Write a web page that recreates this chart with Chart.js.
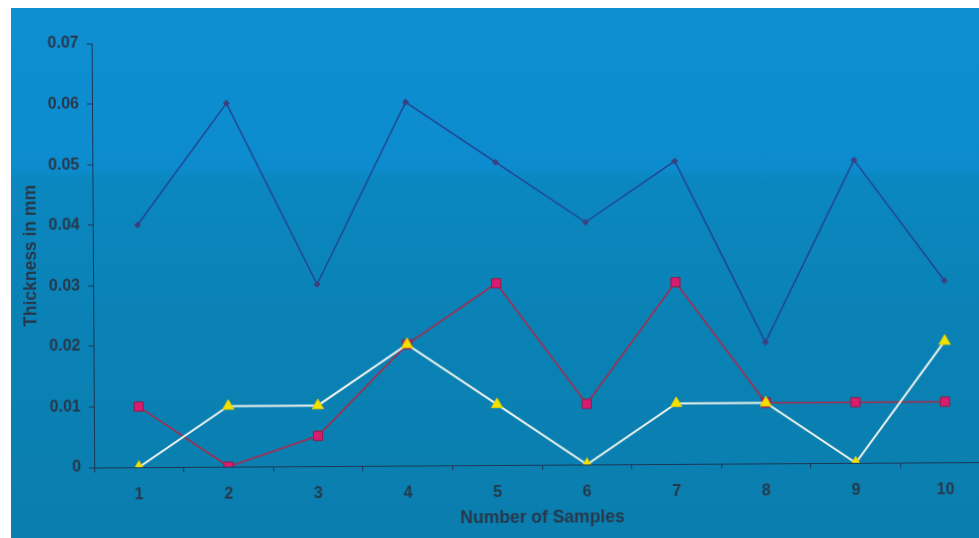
<!DOCTYPE html>
<html>
<head>
<meta charset="utf-8">
<script src="https://cdn.jsdelivr.net/npm/chart.js@4/dist/chart.umd.min.js"></script>
<style>
    html, body { margin: 0; padding: 0; background: #ffffff; overflow: hidden; }
    #page { position: relative; width: 979px; height: 538px; overflow: hidden; }
    #backdrop {
        position: absolute; left: 11px; top: 8px; right: 0; bottom: 0;
        background: linear-gradient(to bottom,
            #0e8fd3 0px, #0c8cce 160px, #0b87c0 172px, #0a82b6 300px, #0a7eae 530px);
    }
    #wrap { position: absolute; left: 0; top: 0; width: 1000px; height: 538px; transform: rotate(-0.35deg); transform-origin: 500px 269px; }
</style>
</head>
<body>
<div id="page">
    <div id="backdrop"></div>
    <div id="wrap"><canvas id="myChart" width="1000" height="538"></canvas></div>
</div>
<script>
const samples = ['1', '2', '3', '4', '5', '6', '7', '8', '9', '10'];
const seriesBlue = [0.04, 0.06, 0.03, 0.06, 0.05, 0.04, 0.05, 0.02, 0.05, 0.03];
const seriesRed = [0.01, 0, 0.005, 0.02, 0.03, 0.01, 0.03, 0.01, 0.01, 0.01];
const seriesYellow = [0, 0.01, 0.01, 0.02, 0.01, 0, 0.01, 0.01, 0, 0.02];
const yTicks = [0, 0.01, 0.02, 0.03, 0.04, 0.05, 0.06, 0.07];

const inkColor = '#26374a';
const axisColor = '#1b3654';

function drawChart() {
    let ctx = document.getElementById('myChart').getContext('2d');
    new Chart(ctx, {
        type: 'line',
        data: {
            labels: samples,
            datasets: [
                {
                    // yellow triangles on a white line, drawn on top
                    data: seriesYellow,
                    borderColor: '#eef3ee',
                    borderWidth: 2,
                    pointStyle: 'triangle',
                    pointRadius: 6.5,
                    pointBackgroundColor: '#f2e200',
                    pointBorderColor: '#e0cc00',
                    pointBorderWidth: 1,
                    tension: 0
                },
                {
                    data: seriesRed,
                    borderColor: '#a82848',
                    borderWidth: 1.6,
                    pointStyle: 'rect',
                    pointRadius: 6.5,
                    pointBackgroundColor: '#d81c70',
                    pointBorderColor: '#8c1c44',
                    pointBorderWidth: 1,
                    tension: 0
                },
                {
                    data: seriesBlue,
                    borderColor: '#22408f',
                    borderWidth: 1.4,
                    pointStyle: 'rectRot',
                    pointRadius: 3.5,
                    pointBackgroundColor: '#3a3f80',
                    pointBorderColor: '#3a3f80',
                    pointBorderWidth: 0,
                    tension: 0
                }
            ]
        },
        options: {
            responsive: false,
            animation: false,
            events: [],
            layout: { padding: { top: 41, right: 11, bottom: 0, left: 0 } },
            plugins: { legend: { display: false }, tooltip: { enabled: false } },
            scales: {
                x: {
                    offset: true,
                    grid: { offset: true, drawOnChartArea: false, tickLength: 5, color: axisColor },
                    border: { color: axisColor, width: 1 },
                    ticks: { color: inkColor, padding: 13, font: { family: 'Liberation Sans', size: 16, weight: 'bold' } },
                    title: {
                        display: true,
                        text: 'Number of Samples',
                        color: inkColor,
                        padding: { top: 9, bottom: 9 },
                        font: { family: 'Liberation Sans', size: 17.5, weight: 'bold' }
                    },
                    afterFit: (scale) => { scale.height = 73; }
                },
                y: {
                    min: 0,
                    max: 0.07,
                    afterBuildTicks: (scale) => { scale.ticks = yTicks.map(v => ({ value: v })); },
                    grid: { drawOnChartArea: false, tickLength: 5, color: axisColor },
                    border: { color: axisColor, width: 1 },
                    ticks: {
                        color: inkColor,
                        padding: 8,
                        font: { family: 'Liberation Sans', size: 16, weight: 'bold' },
                        callback: (v) => v === 0 ? '0' : v.toFixed(2)
                    },
                    title: {
                        display: true,
                        text: 'Thickness in mm',
                        color: inkColor,
                        padding: { top: 21, bottom: 21 },
                        font: { family: 'Liberation Sans', size: 17.5, weight: 'bold' }
                    },
                    afterFit: (scale) => { scale.width = 93; }
                }
            }
        }
    });
}

drawChart();
</script>
</body>
</html>
